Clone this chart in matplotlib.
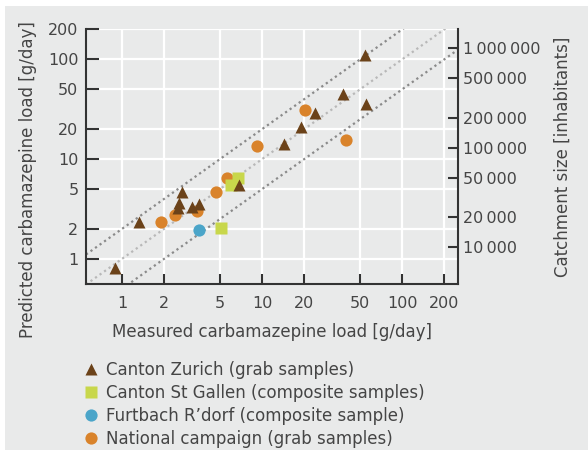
import numpy as np
import matplotlib.pyplot as plt
from matplotlib.lines import Line2D
from matplotlib.patches import Rectangle
from matplotlib.ticker import FixedLocator, NullLocator, FuncFormatter

plt.rcdefaults()
plt.rcParams.update({
    "font.family": ["DejaVu Sans"],
    "font.size": 12,
    "xtick.labelsize": 11.5,
    "ytick.labelsize": 11.5,
    "text.color": "#454545",
    "axes.labelcolor": "#454545",
    "xtick.color": "#333333",
    "ytick.color": "#333333",
    "xtick.labelcolor": "#454545",
    "ytick.labelcolor": "#454545",
})

# measured vs predicted carbamazepine load [g/day]
zh_meas = [0.88, 1.31, 2.66, 2.56, 2.49, 3.14, 3.54, 6.8, 14.3, 18.8, 23.8, 37.8, 54.6, 54.9]
zh_pred = [0.80, 2.33, 4.66, 3.64, 3.22, 3.29, 3.56, 5.5, 14.2, 20.8, 28.8, 44.9, 112, 36.1]

sg_meas = [6.0, 6.7, 5.06]
sg_pred = [5.5, 6.45, 2.02]

fb_meas = [3.54]
fb_pred = [1.95]

nat_meas = [1.89, 2.39, 3.41, 4.69, 5.58, 9.25, 20.1, 39.9]
nat_pred = [2.33, 2.71, 3.0, 4.66, 6.45, 13.4, 31.4, 15.6]

# per capita load used for the catchment axis [g/day per 1000 inhabitants]
per_capita = 0.13

load_ticks = [1, 2, 5, 10, 20, 50, 100, 200]
pop_ticks = [10000, 20000, 50000, 100000, 200000, 500000, 1000000]

labels = ["Canton Zurich (grab samples)",
          "Canton St Gallen (composite samples)",
          "Furtbach R\u2019dorf (composite sample)",
          "National campaign (grab samples)"]

c_zh = "#6b4219"
c_sg = "#c8d74b"
c_fb = "#4ba5c9"
c_nat = "#d9832b"
bg = "#e9eaea"

fig = plt.figure(figsize=(5.88, 4.53), dpi=100)
fig.patch.set_facecolor("white")
fig.patches.append(Rectangle((5/588, 3/453), 1 - 5/588, 1 - 9/453,
                             transform=fig.transFigure, facecolor=bg,
                             edgecolor="none", zorder=-10))

ax = fig.add_axes([0.1463, 0.3731, 0.6321, 0.5618])
ax.set_facecolor(bg)
ax.set_xscale("log")
ax.set_yscale("log")
xlim = (0.55, 250)
ylim = (0.556, 200)
ax.set_xlim(xlim)
ax.set_ylim(ylim)

ax.xaxis.set_major_locator(FixedLocator(load_ticks))
ax.yaxis.set_major_locator(FixedLocator(load_ticks))
ax.xaxis.set_minor_locator(NullLocator())
ax.yaxis.set_minor_locator(NullLocator())
ax.xaxis.set_major_formatter(FuncFormatter(lambda v, p: f"{v:g}"))
ax.yaxis.set_major_formatter(FuncFormatter(lambda v, p: f"{v:g}"))
ax.grid(True, color="white", lw=1.6, zorder=0)
ax.set_axisbelow(True)

ax.tick_params(axis="y", direction="in", length=9, width=1.5, pad=5.5)
ax.tick_params(axis="x", direction="in", length=7.5, width=1.5, pad=9.0)
for s in ["top", "right"]:
    ax.spines[s].set_visible(False)
for s in ["left", "bottom"]:
    ax.spines[s].set_linewidth(1.5)
    ax.spines[s].set_color("#333333")

# 1:1 line and factor-of-two band
xx = np.array(xlim)
ax.plot(xx, xx, ls=(0, (1, 1.5)), color="#b8b8b8", lw=1.6, zorder=1)
ax.plot(xx, 2 * xx, ls=(0, (1, 1.5)), color="#8a8a8a", lw=1.6, zorder=1)
ax.plot(xx, 0.5 * xx, ls=(0, (1, 1.5)), color="#8a8a8a", lw=1.6, zorder=1)

ax.plot(nat_meas, nat_pred, "o", ms=8.8, color=c_nat, mec="none", zorder=3)
ax.plot(fb_meas, fb_pred, "o", ms=8.8, color=c_fb, mec="none", zorder=4)
ax.plot(sg_meas, sg_pred, "s", ms=8.0, color=c_sg, mec="none", zorder=5)
ax.plot(zh_meas, zh_pred, "^", ms=8.5, color=c_zh, mec="none", zorder=6)

ax.set_xlabel("Measured carbamazepine load [g/day]", labelpad=8)
ax.set_ylabel("Predicted carbamazepine load [g/day]")
ax.yaxis.set_label_coords(-0.132, 0.41)

# catchment size on the right
ax2 = ax.twinx()
ax2.set_yscale("log")
ax2.set_ylim(ylim[0] / per_capita * 1000, ylim[1] / per_capita * 1000)
ax2.yaxis.set_major_locator(FixedLocator(pop_ticks))
ax2.yaxis.set_minor_locator(NullLocator())
ax2.yaxis.set_major_formatter(
    FuncFormatter(lambda v, p: f"{int(v):,}".replace(",", "\u2009")))
ax2.tick_params(axis="y", direction="in", length=7.5, width=1.5, pad=3.6)
for s in ["top", "left", "bottom"]:
    ax2.spines[s].set_visible(False)
ax2.spines["right"].set_linewidth(1.5)
ax2.spines["right"].set_color("#333333")
ax2.set_ylabel("Catchment size [inhabitants]")
ax2.yaxis.set_label_coords(1.259, 0.5)

handles = [
    Line2D([], [], ls="none", marker="^", ms=8.5, color=c_zh, mec="none"),
    Line2D([], [], ls="none", marker="s", ms=8.0, color=c_sg, mec="none"),
    Line2D([], [], ls="none", marker="o", ms=8.8, color=c_fb, mec="none"),
    Line2D([], [], ls="none", marker="o", ms=8.8, color=c_nat, mec="none"),
]
fig.legend(handles, labels, loc="upper left", bbox_to_anchor=(0.143, 0.203),
           frameon=False, handlelength=0.8, handletextpad=0.5,
           labelspacing=0.29, borderaxespad=0, borderpad=0)

fig.savefig("out.png", dpi=100)
